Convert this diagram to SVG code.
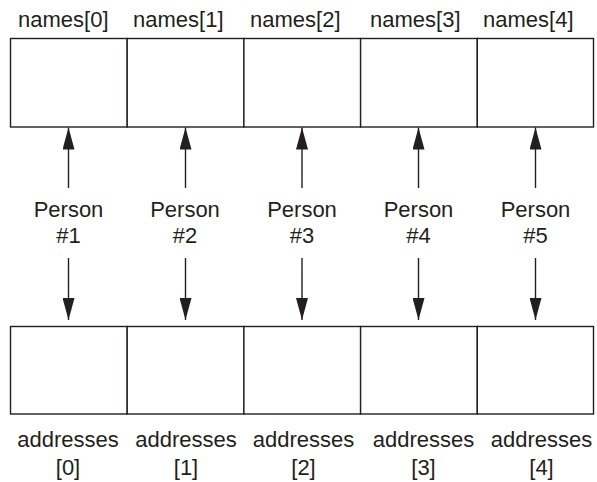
<svg xmlns="http://www.w3.org/2000/svg" width="597" height="482" viewBox="0 0 597 482">
<defs>
<style>
.t{font-family:"Liberation Sans",Arial,sans-serif;font-size:22px;fill:#231f20}
.c{text-anchor:middle}
.box{fill:#fff;stroke:#231f20;stroke-width:1.4}
.ln{stroke:#231f20;stroke-width:1.4;fill:none}
</style>
<marker id="ah" viewBox="0 0 22 12" refX="22" refY="6" markerWidth="22" markerHeight="12" markerUnits="userSpaceOnUse" orient="auto">
<path d="M0,0 L22,6 L0,12 Z" fill="#231f20"/>
</marker>
</defs>
<g id="names">
<rect class="box" x="10.5" y="38.5" width="116.7" height="88.5"/>
<rect class="box" x="127.2" y="38.5" width="116.7" height="88.5"/>
<rect class="box" x="243.9" y="38.5" width="116.7" height="88.5"/>
<rect class="box" x="360.6" y="38.5" width="116.7" height="88.5"/>
<rect class="box" x="477.3" y="38.5" width="116.2" height="88.5"/>
<text class="t" x="18" y="27">names[0]</text>
<text class="t" x="133" y="27">names[1]</text>
<text class="t" x="250" y="27">names[2]</text>
<text class="t" x="370" y="27">names[3]</text>
<text class="t" x="483" y="27">names[4]</text>
</g>
<g id="addresses">
<rect class="box" x="10.5" y="326.5" width="116.7" height="87.5"/>
<rect class="box" x="127.2" y="326.5" width="116.7" height="87.5"/>
<rect class="box" x="243.9" y="326.5" width="116.7" height="87.5"/>
<rect class="box" x="360.6" y="326.5" width="116.7" height="87.5"/>
<rect class="box" x="477.3" y="326.5" width="116.2" height="87.5"/>
<text class="t c" x="68" y="447">addresses</text><text class="t c" x="68" y="475">[0]</text>
<text class="t c" x="186" y="447">addresses</text><text class="t c" x="186" y="475">[1]</text>
<text class="t c" x="303.5" y="447">addresses</text><text class="t c" x="303.5" y="475">[2]</text>
<text class="t c" x="423.5" y="447">addresses</text><text class="t c" x="423.5" y="475">[3]</text>
<text class="t c" x="541.5" y="447">addresses</text><text class="t c" x="541.5" y="475">[4]</text>
</g>
<g id="person1"><text class="t c" x="68.5" y="217">Person</text><text class="t c" x="68.5" y="243">#1</text></g>
<g id="person2"><text class="t c" x="185" y="217">Person</text><text class="t c" x="185" y="243">#2</text></g>
<g id="person3"><text class="t c" x="302" y="217">Person</text><text class="t c" x="302" y="243">#3</text></g>
<g id="person4"><text class="t c" x="418.5" y="217">Person</text><text class="t c" x="418.5" y="243">#4</text></g>
<g id="person5"><text class="t c" x="535.5" y="217">Person</text><text class="t c" x="535.5" y="243">#5</text></g>
<g id="connectors">
<line class="ln" x1="68.5" y1="188" x2="68.5" y2="127.5" marker-end="url(#ah)"/>
<line class="ln" x1="185.5" y1="188" x2="185.5" y2="127.5" marker-end="url(#ah)"/>
<line class="ln" x1="302" y1="188" x2="302" y2="127.5" marker-end="url(#ah)"/>
<line class="ln" x1="418.5" y1="188" x2="418.5" y2="127.5" marker-end="url(#ah)"/>
<line class="ln" x1="535.5" y1="188" x2="535.5" y2="127.5" marker-end="url(#ah)"/>
<line class="ln" x1="68.5" y1="258" x2="68.5" y2="320" marker-end="url(#ah)"/>
<line class="ln" x1="185.5" y1="258" x2="185.5" y2="320" marker-end="url(#ah)"/>
<line class="ln" x1="302" y1="258" x2="302" y2="320" marker-end="url(#ah)"/>
<line class="ln" x1="418.5" y1="258" x2="418.5" y2="320" marker-end="url(#ah)"/>
<line class="ln" x1="535.5" y1="258" x2="535.5" y2="320" marker-end="url(#ah)"/>
</g>
</svg>
